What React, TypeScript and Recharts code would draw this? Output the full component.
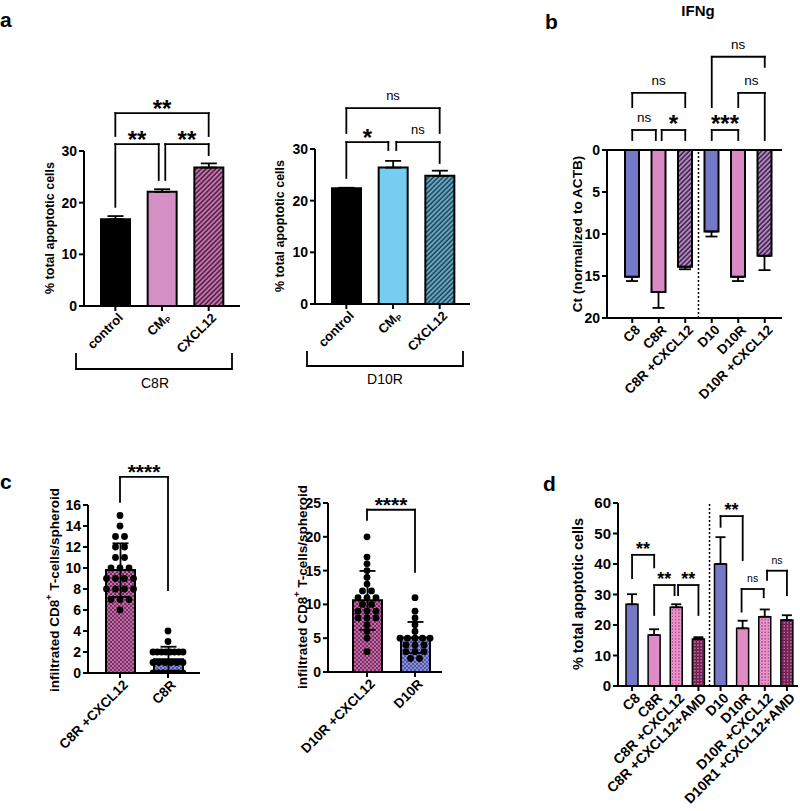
import React from 'react';
import { ComposedChart, Bar, XAxis, YAxis, ErrorBar, Cell, ReferenceLine, Scatter } from 'recharts';

const FONT = '"Liberation Sans", Arial, Helvetica, sans-serif';

// a: % total apoptotic cells (C8R and D10R groups)
const aCats = ['control', 'CMp', 'CXCL12'];
const aC8R = [16.8, 22.1, 26.8];
const aC8RErr = [0.6, 0.5, 0.8];
const aD10R = [22.4, 26.4, 24.8];
const aD10RErr = [0.1, 1.3, 1.0];
const aTicks = [0, 10, 20, 30];

// b: IFNg Ct normalized to ACTB
const bCats = ['C8', 'C8R', 'C8R +CXCL12', 'D10', 'D10R', 'D10R +CXCL12'];
const bCt = [15.1, 16.9, 13.9, 9.7, 15.1, 12.6];
const bCtErr = [0.5, 1.9, 0.3, 0.6, 0.5, 1.7];
const bTicks = [0, 5, 10, 15, 20];

// c: infiltrated CD8+ T-cells per spheroid
const cC8Cats = ['C8R +CXCL12', 'C8R'];
const cC8Mean = [9.8, 1.3];
const cC8Sd = [2.55, 1.2];
const cC8Pts = [
  [15, 14, 13, 13, 12, 12, 11, 11, 10, 10, 10, 9, 9, 9, 9, 8, 8, 8, 8, 7, 7, 7, 6],
  [4, 3, 2, 2, 2, 2, 2, 2, 2, 2, 1, 1, 1, 1, 1, 1, 0, 0, 0, 0, 0, 0, 0],
];
const cC8Ticks = [0, 2, 4, 6, 8, 10, 12, 14, 16];

const cD10Cats = ['D10R +CXCL12', 'D10R'];
const cD10Mean = [10.6, 5.1];
const cD10Sd = [4.35, 2.3];
const cD10Pts = [
  [20, 17, 16, 15, 14, 13, 12, 12, 11, 11, 11, 10, 10, 9, 9, 9, 8, 8, 8, 7, 6, 5, 3],
  [11, 9, 8, 7, 6, 5, 5, 5, 5, 5, 4, 4, 4, 3, 3, 3, 2, 2],
];
const cD10Ticks = [0, 5, 10, 15, 20, 25];

// d: % total apoptotic cells
const dCats = ['C8', 'C8R', 'C8R +CXCL12', 'C8R +CXCL12+AMD', 'D10', 'D10R', 'D10R +CXCL12', 'D10R1 +CXCL12+AMD'];
const dApop = [26.8, 16.7, 25.8, 15.4, 40.0, 18.9, 22.7, 21.6];
const dApopErr = [3.3, 1.9, 1.0, 0.6, 8.8, 2.5, 2.4, 1.6];
const dTicks = [0, 10, 20, 30, 40, 50, 60];

// significance brackets: [from, to (category index units), top, left leg end, right leg end, text]
type Sig = [number, number, number, number, number, string];
const aC8RSig: Sig[] = [
  [0.5, 1.43, 31.35, 19.2, 24.4, '**'],
  [1.57, 2.5, 31.35, 24.4, 29.2, '**'],
  [0.5, 2.5, 37.35, 32.9, 32.9, '**'],
];
const aD10RSig: Sig[] = [
  [0.5, 1.4, 31.35, 24.4, 29.8, '*'],
  [1.57, 2.5, 31.35, 29.8, 27.3, 'ns'],
  [0.5, 2.5, 37.9, 33.1, 33.1, 'ns'],
];
const bSig: Sig[] = [
  [0.5, 1.39, -2.38, -1.19, -1.19, 'ns'],
  [1.61, 2.5, -2.38, -1.19, -1.19, '*'],
  [0.5, 2.5, -6.8, -5.1, -5.1, 'ns'],
  [3.5, 4.5, -2.38, -1.19, -1.19, '***'],
  [4.5, 5.5, -6.8, -5.1, -1.19, 'ns'],
  [3.5, 5.5, -11.1, -5.1, -9.9, 'ns'],
];
const cC8Sig: Sig[] = [[0.5, 1.5, 18.67, 16.3, 7.9, '****']];
const cD10Sig: Sig[] = [[0.5, 1.5, 24.0, 22.5, 14.8, '****']];
const dSig: Sig[] = [
  [0.5, 1.5, 43.0, 35.4, 38.9, '**'],
  [1.5, 2.42, 33.1, 23.3, 29.8, '**'],
  [2.58, 3.5, 33.1, 29.8, 23.3, '**'],
  [4.5, 5.5, 55.7, 52.2, 41.3, '**'],
  [5.45, 6.45, 31.8, 24.4, 29.1, 'ns'],
  [6.6, 7.5, 37.8, 34.8, 29.8, 'ns'],
];

const BLUE = '#7478c6';
const PINK = '#d98ac5';

function swarm(groups: number[][]) {
  return groups.flatMap((vals, i) => {
    const seen: Record<number, number> = {};
    return vals.map((y) => {
      const k = vals.filter((v) => v === y).length;
      const j = (seen[y] = (seen[y] ?? -1) + 1);
      const sp = k > 1 ? Math.min(9, 30 / (k - 1)) : 0;
      return { x: i + 0.5, y, off: (j - (k - 1) / 2) * sp };
    });
  });
}

function CatTick({ x, y, payload, size }: any) {
  const s = String(payload.value);
  return (
    <g transform={`translate(${x + 3},${y})`}>
      <text transform="rotate(-45)" textAnchor="end" dy="0.6em" fontSize={size} fontWeight={700} fill="#000" fontFamily={FONT}>
        {s === 'CMp' ? (
          <>
            <tspan>CM</tspan>
            <tspan fontSize={size * 0.62} dy="0.25em">P</tspan>
          </>
        ) : (
          s
        )}
      </text>
    </g>
  );
}

type PanelProps = {
  box: { left: number; top: number; width: number; height: number };
  plot: [number, number, number, number];
  yW: number;
  xH: number;
  pad: [number, number];
  cats: string[];
  values: number[];
  errs: (number | number[])[];
  fills: string[];
  barSize: number;
  barStroke: number;
  cap: number;
  domain: [number, number];
  ticks: number[];
  reversed?: boolean;
  tickSize: number;
  catSize: number;
  sig: Sig[];
  starSize: number;
  starOff: number;
  nsSize: number;
  nsOff: number;
  divider?: number;
  zeroLine?: boolean;
  points?: number[][];
  dotR?: number;
};

function Panel(p: PanelProps) {
  const [x0, x1, y0, y1] = p.plot;
  const margin = {
    left: x0 - p.box.left - p.yW,
    top: y0 - p.box.top,
    right: p.box.left + p.box.width - x1,
    bottom: p.box.top + p.box.height - y1 - p.xH,
  };
  const data = p.cats.map((name, i) => ({ name, v: p.values[i], e: p.errs[i] }));
  const dots = p.points ? swarm(p.points) : [];
  const n = p.cats.length;
  const ax = { stroke: '#000', strokeWidth: 2 };
  const padding = { left: p.pad[0], right: p.pad[1] };
  return (
    <div style={{ position: 'absolute', left: p.box.left, top: p.box.top, width: p.box.width, height: p.box.height }}>
      <ComposedChart width={p.box.width} height={p.box.height} data={data} margin={margin}>
        <XAxis
          xAxisId="c"
          dataKey="name"
          type="category"
          height={p.xH}
          padding={padding}
          interval={0}
          tickSize={5}
          tickLine={ax}
          axisLine={ax}
          tick={(t: any) => <CatTick {...t} size={p.catSize} />}
        />
        <XAxis xAxisId="n" dataKey="x" type="number" domain={[0, n]} allowDataOverflow hide padding={padding} />
        <YAxis
          type="number"
          domain={p.domain}
          ticks={p.ticks}
          interval={0}
          allowDataOverflow
          reversed={p.reversed}
          width={p.yW}
          tickSize={5}
          tickMargin={2}
          tickLine={ax}
          axisLine={ax}
          tick={{ fill: '#000', fontSize: p.tickSize, fontWeight: 700, fontFamily: FONT }}
        />
        {p.divider !== undefined && (
          <ReferenceLine xAxisId="n" x={p.divider} stroke="#000" strokeWidth={1.5} strokeDasharray="2 2" />
        )}
        <Bar xAxisId="c" dataKey="v" barSize={p.barSize} stroke="#000" strokeWidth={p.barStroke} isAnimationActive={false}>
          {data.map((d, i) => (
            <Cell key={d.name} fill={p.fills[i]} />
          ))}
          <ErrorBar dataKey="e" direction="y" width={p.cap} stroke="#000" strokeWidth={1.8} isAnimationActive={false} />
        </Bar>
        {p.zeroLine && <ReferenceLine xAxisId="c" y={0} stroke="#000" strokeWidth={2} />}
        {p.points && (
          <Scatter
            xAxisId="n"
            data={dots}
            dataKey="y"
            isAnimationActive={false}
            shape={(s: any) => <circle cx={s.cx + (s.payload?.off ?? 0)} cy={s.cy} r={p.dotR} fill="#000" />}
          />
        )}
        {p.sig.flatMap(([a, b, y, ya, yb, text], k) => {
          const star = text !== 'ns';
          const common = { xAxisId: 'n', stroke: '#000', strokeWidth: 1.8, strokeLinecap: 'square' as const, ifOverflow: 'visible' as const };
          return [
            <ReferenceLine
              key={`h${k}`}
              {...common}
              segment={[{ x: a, y }, { x: b, y }]}
              label={{
                value: text,
                position: 'top',
                offset: star ? p.starOff : p.nsOff,
                fill: '#000',
                fontSize: star ? p.starSize : p.nsSize,
                fontWeight: star ? 700 : 400,
                fontFamily: FONT,
              }}
            />,
            <ReferenceLine key={`l${k}`} {...common} segment={[{ x: a, y }, { x: a, y: ya }]} />,
            <ReferenceLine key={`r${k}`} {...common} segment={[{ x: b, y }, { x: b, y: yb }]} />,
          ];
        })}
      </ComposedChart>
    </div>
  );
}

const upOnly = (errs: number[]) => errs.map((e) => [0, e]);

export default function App() {
  return (
    <div style={{ position: 'absolute', left: 0, top: 0, width: 800, height: 811, background: '#fff', fontFamily: FONT }}>
      <svg width={0} height={0} style={{ position: 'absolute' }}>
        <defs>
          <pattern id="hatchMag" patternUnits="userSpaceOnUse" width={3.4} height={3.4} patternTransform="rotate(45)">
            <rect width={3.4} height={3.4} fill="#c47aab" />
            <line x1={1} y1={0} x2={1} y2={3.4} stroke="#4d1640" strokeWidth={1.5} />
          </pattern>
          <pattern id="hatchTeal" patternUnits="userSpaceOnUse" width={3.4} height={3.4} patternTransform="rotate(45)">
            <rect width={3.4} height={3.4} fill="#66abc9" />
            <line x1={1} y1={0} x2={1} y2={3.4} stroke="#1f3f52" strokeWidth={1.5} />
          </pattern>
          <pattern id="hatchPurp" patternUnits="userSpaceOnUse" width={3.4} height={3.4} patternTransform="rotate(45)">
            <rect width={3.4} height={3.4} fill="#b48cc2" />
            <line x1={1} y1={0} x2={1} y2={3.4} stroke="#3a1d46" strokeWidth={1.5} />
          </pattern>
          <pattern id="chkMag" patternUnits="userSpaceOnUse" width={4} height={4}>
            <rect width={4} height={4} fill="#c06ea6" />
            <rect width={2} height={2} fill="#7a2c64" />
            <rect x={2} y={2} width={2} height={2} fill="#7a2c64" />
          </pattern>
          <pattern id="chkBlue" patternUnits="userSpaceOnUse" width={4} height={4}>
            <rect width={4} height={4} fill="#8a8fd6" />
            <rect width={2} height={2} fill="#5257a8" />
            <rect x={2} y={2} width={2} height={2} fill="#5257a8" />
          </pattern>
          <pattern id="dotPink" patternUnits="userSpaceOnUse" width={3.2} height={3.2}>
            <rect width={3.2} height={3.2} fill="#ea94cd" />
            <circle cx={1.6} cy={1.6} r={0.8} fill="#a3417f" />
          </pattern>
          <pattern id="chkDark" patternUnits="userSpaceOnUse" width={3.2} height={3.2}>
            <rect width={3.2} height={3.2} fill="#6e2452" />
            <circle cx={1.6} cy={1.6} r={0.8} fill="#d27fb4" />
          </pattern>
        </defs>
      </svg>

      <Panel
        box={{ left: 0, top: 85, width: 255, height: 300 }}
        plot={[84, 240, 151, 306]}
        yW={40}
        xH={70}
        pad={[8, 8]}
        cats={aCats}
        values={aC8R}
        errs={upOnly(aC8RErr)}
        fills={['#000', '#d48fc4', 'url(#hatchMag)']}
        barSize={29}
        barStroke={2}
        cap={8}
        domain={[0, 30]}
        ticks={aTicks}
        tickSize={14}
        catSize={13}
        sig={aC8RSig}
        starSize={24}
        starOff={-4}
        nsSize={13}
        nsOff={8}
      />
      <Panel
        box={{ left: 255, top: 85, width: 235, height: 300 }}
        plot={[315, 470, 149, 304]}
        yW={40}
        xH={70}
        pad={[8, 7]}
        cats={aCats}
        values={aD10R}
        errs={upOnly(aD10RErr)}
        fills={['#000', '#75cdf2', 'url(#hatchTeal)']}
        barSize={29}
        barStroke={2}
        cap={8}
        domain={[0, 30]}
        ticks={aTicks}
        tickSize={14}
        catSize={13}
        sig={aD10RSig}
        starSize={24}
        starOff={-4}
        nsSize={13}
        nsOff={8}
      />
      <Panel
        box={{ left: 530, top: 35, width: 270, height: 390 }}
        plot={[607, 782, 150, 318]}
        yW={45}
        xH={100}
        pad={[12, 4]}
        cats={bCats}
        values={bCt}
        errs={upOnly(bCtErr)}
        fills={[BLUE, PINK, 'url(#hatchPurp)', BLUE, PINK, 'url(#hatchPurp)']}
        barSize={14}
        barStroke={2}
        cap={6}
        domain={[0, 20]}
        ticks={bTicks}
        reversed
        tickSize={14}
        catSize={13.5}
        sig={bSig}
        starSize={24}
        starOff={-1.5}
        nsSize={13.5}
        nsOff={8}
        divider={3}
        zeroLine
      />
      <Panel
        box={{ left: 0, top: 455, width: 235, height: 350 }}
        plot={[88, 200, 505, 673]}
        yW={36}
        xH={100}
        pad={[8, 8]}
        cats={cC8Cats}
        values={cC8Mean}
        errs={cC8Sd}
        fills={['url(#chkMag)', 'url(#chkBlue)']}
        barSize={29}
        barStroke={2}
        cap={8}
        domain={[0, 16]}
        ticks={cC8Ticks}
        tickSize={14}
        catSize={13.5}
        sig={cC8Sig}
        starSize={21}
        starOff={-2}
        nsSize={13}
        nsOff={8}
        points={cC8Pts}
        dotR={3.4}
      />
      <Panel
        box={{ left: 240, top: 455, width: 230, height: 350 }}
        plot={[328, 442, 503, 672]}
        yW={36}
        xH={100}
        pad={[15, 3]}
        cats={cD10Cats}
        values={cD10Mean}
        errs={cD10Sd}
        fills={['url(#chkMag)', 'url(#chkBlue)']}
        barSize={29}
        barStroke={2}
        cap={8}
        domain={[0, 25]}
        ticks={cD10Ticks}
        tickSize={14}
        catSize={13.5}
        sig={cD10Sig}
        starSize={21}
        starOff={-2}
        nsSize={13}
        nsOff={8}
        points={cD10Pts}
        dotR={3.4}
      />
      <Panel
        box={{ left: 530, top: 490, width: 270, height: 321 }}
        plot={[618, 798, 503, 686]}
        yW={40}
        xH={120}
        pad={[3, 0]}
        cats={dCats}
        values={dApop}
        errs={upOnly(dApopErr)}
        fills={[BLUE, '#df8cc6', 'url(#dotPink)', 'url(#chkDark)', BLUE, '#df8cc6', 'url(#dotPink)', 'url(#chkDark)']}
        barSize={12}
        barStroke={1.5}
        cap={5}
        domain={[0, 60]}
        ticks={dTicks}
        tickSize={15}
        catSize={14}
        sig={dSig}
        starSize={18}
        starOff={0}
        nsSize={10.5}
        nsOff={7}
        divider={4}
      />

      <svg width={800} height={811} style={{ position: 'absolute', left: 0, top: 0, pointerEvents: 'none' }} fontFamily={FONT}>
        <text x={0} y={27} fontSize={21} fontWeight={700}>a</text>
        <text x={545} y={29} fontSize={21} fontWeight={700}>b</text>
        <text x={0} y={489} fontSize={21} fontWeight={700}>c</text>
        <text x={543} y={491} fontSize={21} fontWeight={700}>d</text>
        <text x={698} y={16} fontSize={15} fontWeight={700} textAnchor="middle">IFNg</text>

        <path d="M76 353 V369 H232 V353" fill="none" stroke="#000" strokeWidth={1.8} />
        <text x={155} y={388} fontSize={14} textAnchor="middle">C8R</text>
        <path d="M307 351 V366 H463 V351" fill="none" stroke="#000" strokeWidth={1.8} />
        <text x={385} y={384} fontSize={14} textAnchor="middle">D10R</text>

        <g fontWeight={700} textAnchor="middle">
          <text transform="translate(50,228) rotate(-90)" fontSize={12.5} dominantBaseline="central">% total apoptotic cells</text>
          <text transform="translate(280,226) rotate(-90)" fontSize={12.5} dominantBaseline="central">% total apoptotic cells</text>
          <text transform="translate(577,234) rotate(-90)" fontSize={13.6} dominantBaseline="central">Ct (normalized to ACTB)</text>
          <text transform="translate(54,590) rotate(-90)" fontSize={13.5} dominantBaseline="central">
            infiltrated CD8<tspan fontSize={9} dy={-5}>+</tspan><tspan dy={5}> T-cells/spheroid</tspan>
          </text>
          <text transform="translate(302,587) rotate(-90)" fontSize={13.5} dominantBaseline="central">
            infiltrated CD8<tspan fontSize={9} dy={-5}>+</tspan><tspan dy={5}> T-cells/spheroid</tspan>
          </text>
          <text transform="translate(578,594) rotate(-90)" fontSize={14.4} dominantBaseline="central">% total apoptotic cells</text>
        </g>
      </svg>
    </div>
  );
}
